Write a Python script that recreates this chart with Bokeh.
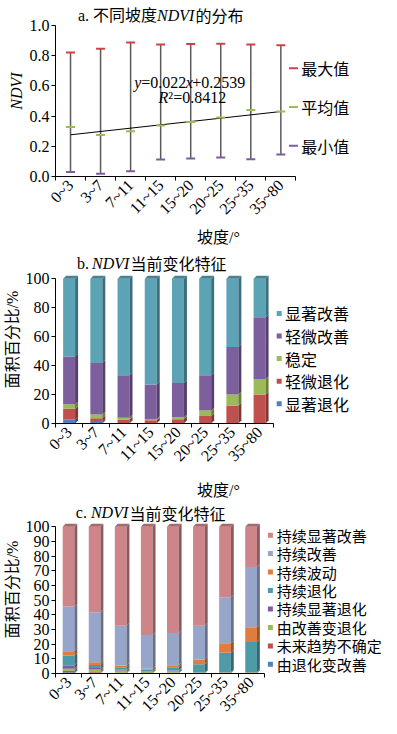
import math
from bokeh.plotting import figure
from bokeh.models import Range1d, FixedTicker, Label, PrintfTickFormatter
from bokeh.core.properties import value
from bokeh.layouts import column
from bokeh.embed import file_html
from bokeh.resources import INLINE

# ---------------- data ----------------
slopes = ["0~3", "3~7", "7~11", "11~15", "15~20", "20~25", "25~35", "35~80"]

# panel a
ndvi_max = [0.820, 0.846, 0.886, 0.873, 0.877, 0.879, 0.873, 0.868]
ndvi_mean = [0.327, 0.275, 0.300, 0.338, 0.360, 0.390, 0.440, 0.430]
ndvi_min = [0.029, 0.018, 0.035, 0.112, 0.119, 0.125, 0.114, 0.145]
fit_slope = 0.022
fit_intercept = 0.2539
a_names = ["最大值", "平均值", "最小值"]
a_colors = ["#D0404A", "#9BBB59", "#7F5BA0"]

# panel b (bottom -> top)
b_names = ["显著退化", "轻微退化", "稳定", "轻微改善", "显著改善"]
b_sig_deg = [2.8, 1.0, 0.4, 0.3, 0.3, 0.2, 0.2, 0.2]
b_sli_deg = [7.3, 2.6, 2.3, 1.9, 2.6, 4.9, 12.2, 19.8]
b_stable = [3.2, 2.6, 1.3, 0.9, 1.5, 3.8, 7.6, 10.7]
b_sli_imp = [33.0, 35.6, 29.3, 23.8, 23.6, 24.4, 32.9, 42.6]
b_sig_imp = [53.7, 58.2, 66.7, 73.1, 72.0, 66.7, 47.1, 26.7]
b_colors = ["#4F81BD", "#C0504D", "#9BBB59", "#7E5F9E", "#5BA3B5"]

# panel c (bottom -> top)
c_names = ["由退化变改善", "未来趋势不确定", "由改善变退化", "持续显著退化",
           "持续退化", "持续波动", "持续改善", "持续显著改善"]
c_deg_to_imp = [0.8, 0.3, 0.2, 0.2, 0.2, 0.1, 0.1, 0.1]
c_uncertain = [0.9, 0.5, 0.3, 0.2, 0.3, 0.1, 0.1, 0.1]
c_imp_to_deg = [1.5, 2.0, 1.5, 0.8, 1.2, 0.3, 0.6, 0.6]
c_sig_deg = [2.1, 1.0, 0.5, 0.3, 0.3, 0.1, 0.2, 0.2]
c_deg = [6.9, 2.0, 1.7, 1.0, 2.2, 5.7, 13.1, 20.5]
c_fluct = [3.0, 1.8, 1.1, 0.7, 1.5, 3.2, 6.5, 10.1]
c_imp = [30.5, 34.1, 27.3, 23.1, 21.9, 23.1, 31.4, 41.0]
c_sig_imp = [54.3, 58.3, 67.4, 73.7, 72.4, 67.4, 48.0, 27.4]
c_colors = ["#4F81BD", "#C0504D", "#9BBB59", "#7F5BA0",
            "#4E9AA6", "#E07C3E", "#97A5CA", "#CD8589"]

# ---------------- styling helpers ----------------
SERIF = "Liberation Serif, Noto Sans CJK SC"
CJK = "Noto Sans CJK SC"
xs = list(range(1, len(slopes) + 1))
x_last = len(slopes) + 0.5


def shade(hexc, f):
    r, g, b = int(hexc[1:3], 16), int(hexc[3:5], 16), int(hexc[5:7], 16)
    return "#%02x%02x%02x" % (int(r * f), int(g * f), int(b * f))


def base_fig(height, left, top, bottom, x_end, y_end, y_top_tick):
    p = figure(width=381, height=height, output_backend="svg", toolbar_location=None,
               x_range=Range1d(0.5, x_end), y_range=Range1d(0, y_end),
               min_border_left=left, min_border_right=0,
               min_border_top=top, min_border_bottom=bottom)
    p.outline_line_color = None
    p.xgrid.visible = False
    p.ygrid.visible = False
    p.background_fill_color = "white"
    p.border_fill_color = "white"
    # x axis: labels at category centers, ticks at boundaries
    p.xaxis.ticker = FixedTicker(ticks=xs, minor_ticks=[x - 0.5 for x in xs] + [x_last])
    p.xaxis.bounds = (0.5, x_last)
    p.yaxis.bounds = (0, y_top_tick)
    p.xaxis.major_label_overrides = {x: s for x, s in zip(xs, slopes)}
    p.xaxis.major_tick_out = 0
    p.xaxis.major_tick_in = 0
    p.xaxis.minor_tick_out = 4
    p.xaxis.minor_tick_in = 0
    p.xaxis.minor_tick_line_color = "black"
    p.xaxis.major_label_orientation = math.pi / 4
    p.xaxis.major_label_standoff = 2
    p.yaxis.minor_tick_line_color = None
    p.yaxis.major_tick_out = 4
    p.yaxis.major_tick_in = 0
    p.yaxis.major_label_standoff = 2
    for ax in p.axis:
        ax.axis_line_color = "black"
        ax.major_tick_line_color = "black"
        ax.major_label_text_font = "Liberation Serif"
        ax.major_label_text_font_size = "16px"
        ax.major_label_text_color = "black"
        ax.axis_label_text_font = SERIF
        ax.axis_label_text_font_size = "16px"
        ax.axis_label_text_font_style = "normal"
        ax.axis_label_text_color = "black"
        ax.axis_label_standoff = 2
    return p


def add_title(p, x, y, prefix, suffix):
    # prefix (normal), "NDVI" (italic), suffix (normal); 16px text
    w_prefix = 15.1 + 16 * (len(prefix) - 3)
    p.add_layout(Label(x=x, y=y, text=prefix, text_font=SERIF, text_font_size="16px",
                       text_baseline="middle", text_align="left", text_color="black"))
    p.add_layout(Label(x=x, y=y, x_offset=w_prefix, text="NDVI", text_font="Liberation Serif",
                       text_font_style="italic", text_font_size="16px",
                       text_baseline="middle", text_align="left", text_color="black"))
    p.add_layout(Label(x=x, y=y, x_offset=w_prefix + 38.5, text=suffix, text_font=CJK,
                       text_font_size="16px", text_baseline="middle", text_align="left",
                       text_color="black"))


def bars3d(p, series, colors, bw, dx, dy):
    bottoms = [0.0] * len(xs)
    left = [x - bw / 2 for x in xs]
    right = [x + bw / 2 for x in xs]
    for vals, col in zip(series, colors):
        tops = [b + v for b, v in zip(bottoms, vals)]
        p.quad(left=left, right=right, bottom=bottoms, top=tops,
               fill_color=col, line_color=None)
        p.patches([[r, r + dx, r + dx, r] for r in right],
                  [[b, b + dy, t + dy, t] for b, t in zip(bottoms, tops)],
                  fill_color=shade(col, 0.68), line_color=None)
        bottoms = tops
    p.patches([[l, l + dx, r + dx, r] for l, r in zip(left, right)],
              [[t, t + dy, t + dy, t] for t in bottoms],
              fill_color=shade(colors[-1], 0.8), line_color=None)


def manual_legend(p, names, colors, gx, tx, y0, dy, marker, msize, font_size):
    ys = [y0 - k * dy for k in range(len(names))]
    if marker == "dash":
        p.scatter([gx] * len(names), ys, marker="dash", size=msize,
                  line_color=colors, line_width=2)
    else:
        p.scatter([gx] * len(names), ys, marker="square", size=msize,
                  fill_color=colors, line_color=None)
    p.text([tx] * len(names), ys, text=names, text_font=value(CJK),
           text_font_size=value(font_size), text_baseline="middle",
           text_align="left", text_color="black")


# ---------------- panel a ----------------
pa = base_fig(249, 46, 5, 72, 11.35, 1.1316, 1.0)
pa.yaxis.ticker = FixedTicker(ticks=[0, 0.2, 0.4, 0.6, 0.8, 1.0])
pa.yaxis.formatter = PrintfTickFormatter(format="%.1f")
pa.yaxis.axis_label = "NDVI"
pa.yaxis.axis_label_text_font = "Liberation Serif"
pa.yaxis.axis_label_text_font_style = "italic"
pa.xaxis.axis_label = "坡度/°"
pa.xaxis.axis_label_standoff = 3

pa.segment(x0=xs, y0=ndvi_min, x1=xs, y1=ndvi_max, line_color="#5a5a5a", line_width=1.5)
fit_x = [xs[0], xs[-1]]
fit_y = [fit_slope * x + fit_intercept for x in fit_x]
pa.line(fit_x, fit_y, line_color="black", line_width=1)
for vals, col in zip([ndvi_max, ndvi_mean, ndvi_min], a_colors):
    pa.scatter(xs, vals, marker="dash", size=9, line_color=col, line_width=2)

eq_x, eq_y = 3.12, 0.625
for txt, off, style in [("y", 0, "italic"), ("=0.022", 7.1, "normal"),
                        ("x", 51.5, "italic"), ("+0.2539", 58.0, "normal")]:
    pa.add_layout(Label(x=eq_x, y=eq_y, x_offset=off, text=txt, text_font="Liberation Serif",
                        text_font_style=style, text_font_size="16px", text_baseline="middle",
                        text_align="left", text_color="black"))
r2_x, r2_y = 3.93, 0.52
for txt, off, style in [("R", 0, "italic"), ("²=0.8412", 9.8, "normal")]:
    pa.add_layout(Label(x=r2_x, y=r2_y, x_offset=off, text=txt, text_font="Liberation Serif",
                        text_font_style=style, text_font_size="16px", text_baseline="middle",
                        text_align="left", text_color="black"))

add_title(pa, 1.245, 1.066, "a. 不同坡度", "的分布")
manual_legend(pa, a_names, a_colors, 8.42, 8.68, 0.717, 0.257, "dash", 9, "16px")

# ---------------- panel b ----------------
pb = base_fig(253, 47, 6, 73, 12.48, 116, 100)
pb.yaxis.ticker = FixedTicker(ticks=[0, 20, 40, 60, 80, 100])
pb.yaxis.axis_label = "面积百分比/%"
pb.xaxis.axis_label = "坡度/°"
pb.xaxis.axis_label_standoff = 9
bars3d(pb, [b_sig_deg, b_sli_deg, b_stable, b_sli_imp, b_sig_imp], b_colors, 0.44, 0.11, 2.0)
manual_legend(pb, b_names[::-1], b_colors[::-1], 8.72, 8.93, 76.0, 15.6, "square", 5, "16px")
add_title(pb, 1.29, 110.7, "b. ", "当前变化特征")

# ---------------- panel c ----------------
pc = base_fig(221, 45, 3, 36, 13.0, 114.5, 100)
pc.yaxis.ticker = FixedTicker(ticks=list(range(0, 101, 10)))
pc.yaxis.axis_label = "面积百分比/%"
bars3d(pc, [c_deg_to_imp, c_uncertain, c_imp_to_deg, c_sig_deg, c_deg, c_fluct, c_imp, c_sig_imp],
       c_colors, 0.45, 0.11, 2.0)
manual_legend(pc, c_names[::-1], c_colors[::-1], 8.74, 8.98, 94.3, 12.58, "square", 5, "15px")
add_title(pc, 1.28, 109.4, "c. ", "当前变化特征")

layout = column(pa, pb, pc, spacing=0)
open("out.html", "w").write(file_html(layout, INLINE))
